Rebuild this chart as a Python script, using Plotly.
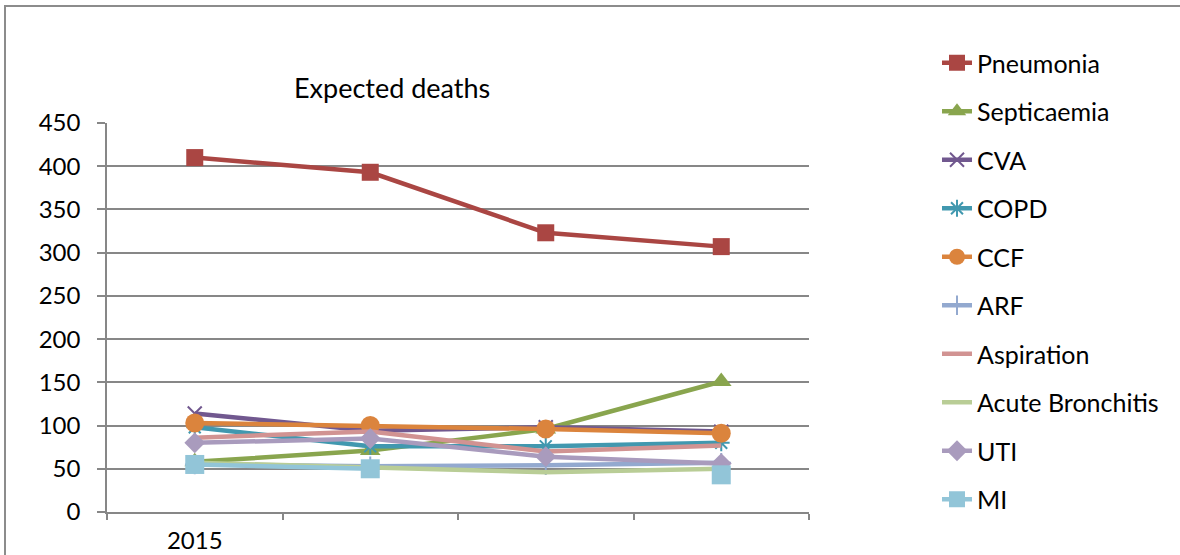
import plotly.graph_objects as go

# Expected deaths per condition, one value per year
years = ["2015", "2016", "2017", "2018"]
year_labels = ["2015", "", "", ""]

pneumonia = [410, 393, 323, 307]
septicaemia = [58, 71, 96, 151]
cva = [114, 94, 98, 93]
copd = [98, 76, 76, 80]
ccf = [103, 100, 96, 91]
arf = [55, 53, 54, 57]
aspiration = [86, 93, 70, 77]
acute_bronchitis = [57, 51, 46, 50]
uti = [80, 85, 64, 56]
mi = [55, 50, None, 43]

y_ticks = [0, 50, 100, 150, 200, 250, 300, 350, 400, 450]

FONT = "Lato"
GRID = "#878787"

# name, values, colour, marker symbol (None = line only), marker size, open symbol?
series = [
    ("Pneumonia", pneumonia, "#AA4643", "square", 17, False),
    ("Septicaemia", septicaemia, "#89A54E", "triangle-up", 18, False),
    ("CVA", cva, "#71588F", "x-thin-open", 14, True),
    ("COPD", copd, "#4198AF", "asterisk-open", 14, True),
    ("CCF", ccf, "#DB843D", "circle", 19, False),
    ("ARF", arf, "#93A9CF", "cross-thin-open", 14, True),
    ("Aspiration", aspiration, "#D19392", None, 0, False),
    ("Acute Bronchitis", acute_bronchitis, "#B9CD96", None, 0, False),
    ("UTI", uti, "#A99BBD", "diamond", 16, False),
    ("MI", mi, "#92C5D8", "square", 19, False),
]

fig = go.Figure()
for i, (name, vals, color, symbol, size, is_open) in enumerate(series):
    kw = dict(
        x=years,
        y=vals,
        name=name,
        legendgroup=f"g{i}",
        line=dict(color=color, width=4.5),
        connectgaps=False,
    )
    if symbol is None:
        kw["mode"] = "lines"
    else:
        kw["mode"] = "lines+markers"
        kw["marker"] = dict(
            symbol=symbol,
            size=size,
            color=color,
            line=dict(color=color, width=2 if is_open else 0),
        )
    fig.add_trace(go.Scatter(**kw))

# plot area spans 107..809 px horizontally, 123..512 px vertically
L, R, T, B = 107, 371, 123, 43
W, H = 1180, 555
pw, ph = W - L - R, H - T - B


def px_x(p):
    return (p - L) / pw


def px_y(p):
    return (H - B - p) / ph


fig.update_layout(
    width=W,
    height=H,
    margin=dict(l=L, r=R, t=T, b=B),
    paper_bgcolor="white",
    plot_bgcolor="white",
    font=dict(family=FONT, size=24, color="#000000"),
    showlegend=True,
    legend=dict(
        xref="container",
        yref="container",
        x=937 / W,
        y=(H - 40) / H,
        xanchor="left",
        yanchor="top",
        maxheight=540,
        font=dict(family=FONT, size=25, color="#000000"),
        tracegroupgap=13,
        bgcolor="rgba(0,0,0,0)",
        itemwidth=30,
    ),
    xaxis=dict(
        type="category",
        categoryorder="array",
        categoryarray=years,
        tickmode="array",
        tickvals=years,
        ticktext=year_labels,
        tickson="boundaries",
        ticks="outside",
        ticklen=6,
        tickwidth=1.5,
        tickcolor=GRID,
        showline=True,
        linecolor=GRID,
        linewidth=1.5,
        showgrid=False,
        zeroline=False,
        automargin=False,
        ticklabelstandoff=6,
        tickfont=dict(family=FONT, size=24, color="#000000"),
        range=[-0.5, 3.5],
    ),
    yaxis=dict(
        range=[0, 450],
        tickmode="array",
        tickvals=y_ticks,
        showgrid=True,
        gridcolor=GRID,
        gridwidth=1.5,
        showline=True,
        linecolor=GRID,
        linewidth=1.5,
        ticks="outside",
        ticklen=8,
        tickwidth=1.5,
        tickcolor=GRID,
        zeroline=False,
        automargin=False,
        ticklabelstandoff=12,
        tickfont=dict(family=FONT, size=24, color="#000000"),
    ),
    annotations=[
        dict(
            text="Expected deaths",
            xref="paper",
            yref="paper",
            x=px_x(392),
            y=px_y(87),
            xanchor="center",
            yanchor="middle",
            showarrow=False,
            font=dict(family=FONT, size=27, color="#000000"),
        )
    ],
    shapes=[
        dict(
            type="rect",
            xref="paper",
            yref="paper",
            x0=px_x(5),
            x1=px_x(1190),
            y0=px_y(565),
            y1=px_y(6),
            line=dict(color="#8C8C8C", width=2),
            fillcolor="rgba(0,0,0,0)",
            layer="below",
        )
    ],
)

fig.write_html("out.html")
